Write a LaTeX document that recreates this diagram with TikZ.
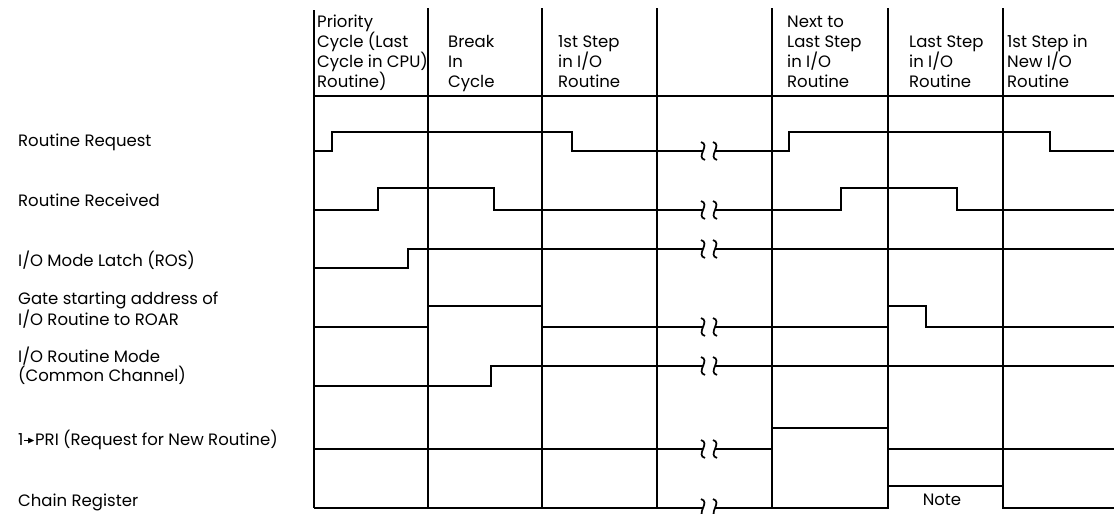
\documentclass[tikz,border=0pt]{standalone}
\usepackage{amssymb}
\usepackage{fontspec}
\setmainfont{Poppins}
\begin{document}
\begin{tikzpicture}[x=1pt,y=-1pt,
  grid/.style={line width=1.1pt},
  sig/.style={line width=1.8pt},
  brk/.style={line width=1.7pt},
  lbl/.style={anchor=base west,inner sep=0pt,align=left,font=\fontsize{16.5}{18.5}\selectfont},
  head/.style={anchor=base west,inner sep=0pt,align=left,font=\fontsize{16.5}{20}\selectfont}]
\useasboundingbox (0,0) rectangle (1114,514);
\draw[grid] (314,10) -- (314,508);
\foreach \x in {428,542,657,772,888,1003}
  \draw[grid] (\x,8) -- (\x,508);
\draw[grid] (314,96) -- (1114,96);

\node[head] (prio) at (317,87) {Priority\\Cycle (Last\\Cycle in CPU)\\Routine)};
\node[head] (brkin) at (448,87) {Break\\In\\Cycle};
\node[head] (first) at (558,87) {1st Step\\in I/O\\Routine};
\node[head] (nextlast) at (787,87) {Next to\\Last Step\\in I/O\\Routine};
\node[head] (last) at (909,87) {Last Step\\in I/O\\Routine};
\node[head] (newfirst) at (1007,87) {1st Step in\\New I/O\\Routine};

\node[lbl] (rreq) at (18,146) {Routine Request};
\node[lbl] (rrec) at (18,206) {Routine Received};
\node[lbl] (latch) at (18,266) {I/O Mode Latch (ROS)};
\node[lbl] (gate) at (18,325) {Gate starting address of\\I/O Routine to ROAR};
\node[lbl] (mode) at (18,381) {I/O Routine Mode\\(Common Channel)};
\node[lbl] (pri) at (18,445) {1\kern1pt\rule[3.8pt]{4pt}{1.3pt}\kern-1pt\raisebox{1.2pt}{\scalebox{0.6}{$\blacktriangleright$}}PRI (Request for New Routine)};
\node[lbl] (chain) at (18,506) {Chain Register};
\node[lbl,anchor=base] (note) at (942,505) {Note};

\draw[sig] (314,151) -- (332,151) -- (332,132) -- (572,132) -- (572,151) -- (703,151);
\draw[sig] (715,151) -- (789,151) -- (789,132) -- (1050,132) -- (1050,151) -- (1114,151);
\draw[sig] (314,210) -- (378,210) -- (378,188) -- (494,188) -- (494,210) -- (703,210);
\draw[sig] (715,210) -- (841,210) -- (841,188) -- (957,188) -- (957,210) -- (1114,210);
\draw[sig] (314,268) -- (408,268) -- (408,249) -- (703,249);
\draw[sig] (715,249) -- (1114,249);
\draw[sig] (314,327) -- (428,327) -- (428,306) -- (542,306) -- (542,327) -- (703,327);
\draw[sig] (715,327) -- (888,327) -- (888,306) -- (926,306) -- (926,327) -- (1114,327);
\draw[sig] (314,386) -- (491,386) -- (491,366) -- (703,366);
\draw[sig] (715,366) -- (1114,366);
\draw[sig] (314,449) -- (703,449);
\draw[sig] (715,449) -- (772,449) -- (772,428) -- (888,428) -- (888,449) -- (1114,449);
\draw[sig] (314,508) -- (703,508);
\draw[sig] (715,508) -- (888,508) -- (888,486) -- (1003,486) -- (1003,508) -- (1114,508);

\foreach \y in {151,210,249,327,366,449,508}
  \foreach \x in {703,715}
    \draw[brk] (\x-2,\y-9) .. controls (\x+8,\y-6) and (\x-8,\y+6) .. (\x+2,\y+9);
\end{tikzpicture}
\end{document}
